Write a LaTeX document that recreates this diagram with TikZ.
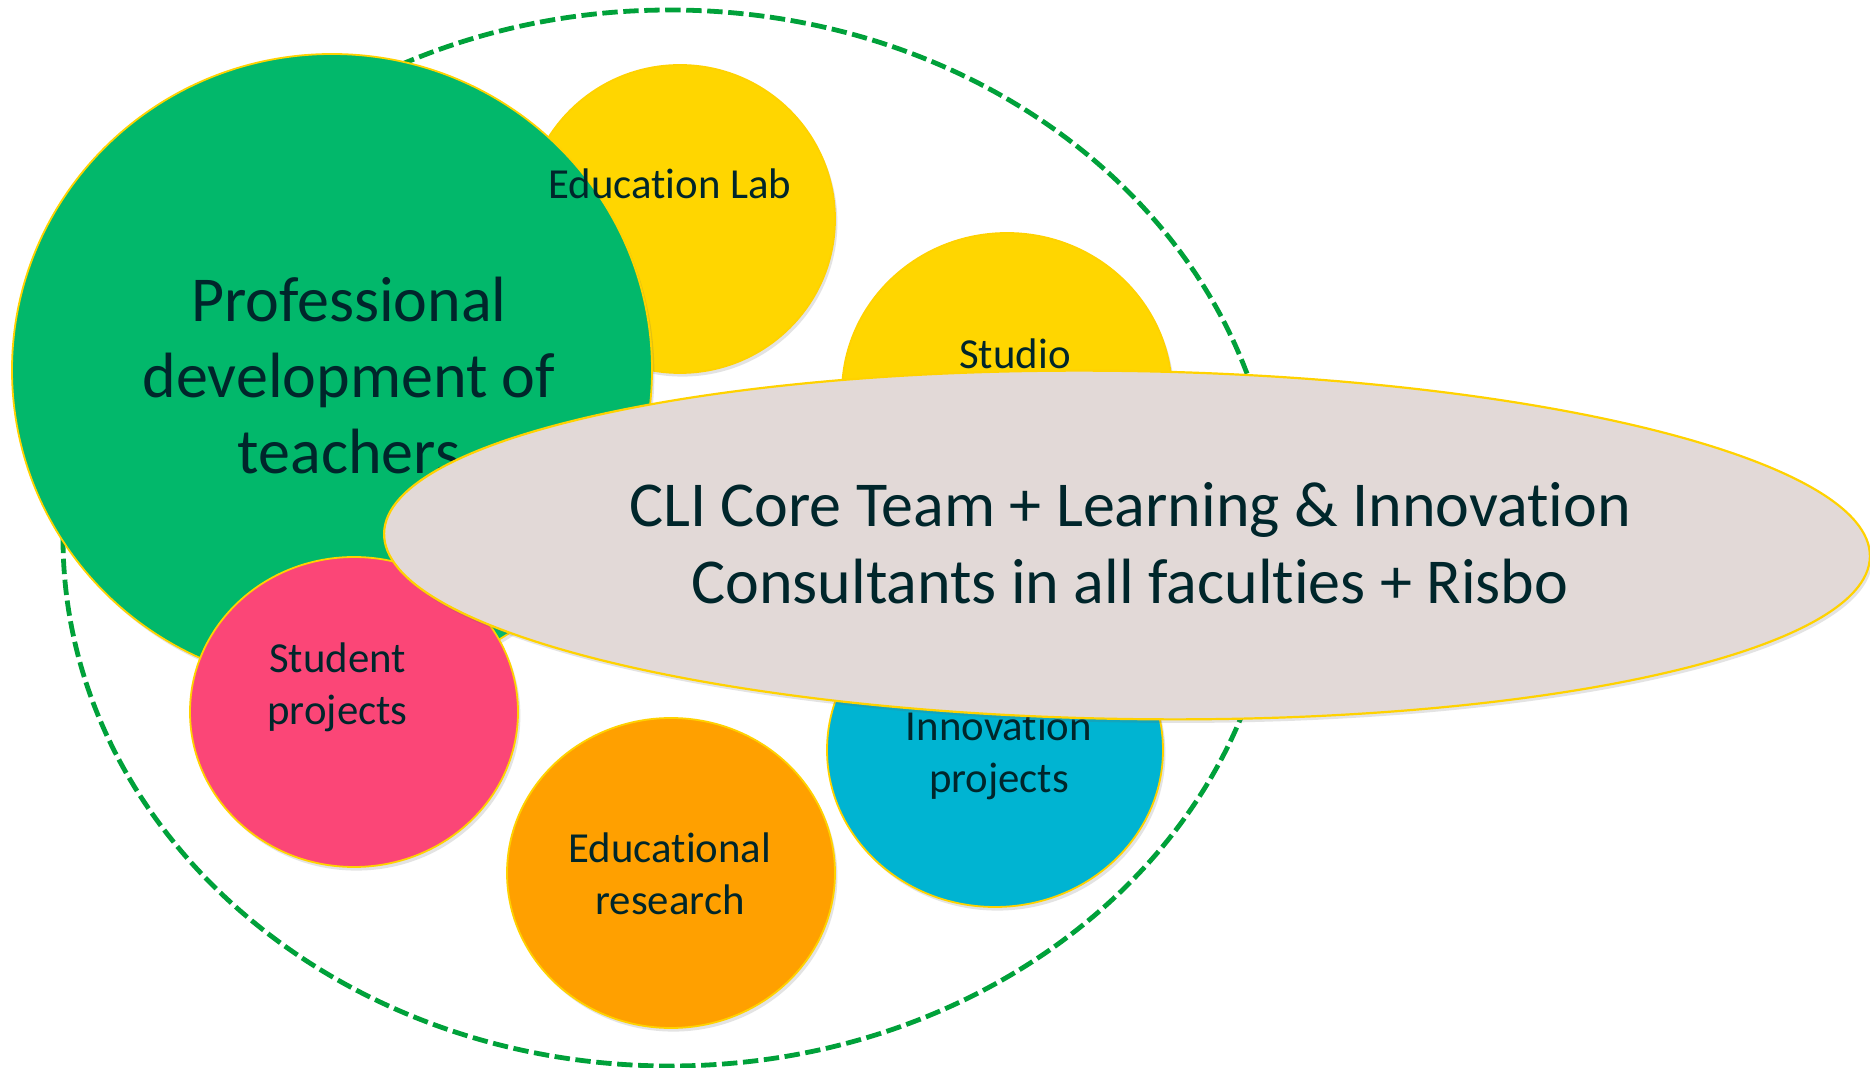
\documentclass[tikz,border=0pt]{standalone}
\usepackage{fontspec}
\setmainfont{Carlito}[Ligatures={NoCommon}]
\usetikzlibrary{shapes.geometric,shadows}
\definecolor{cgreen}{HTML}{02B86B}
\definecolor{cyellow}{HTML}{FFD600}
\definecolor{cpink}{HTML}{FB4677}
\definecolor{corange}{HTML}{FFA000}
\definecolor{cblue}{HTML}{00B4D2}
\definecolor{cgrey}{HTML}{E2D9D7}
\definecolor{cedge}{HTML}{FFD200}
\definecolor{cdash}{HTML}{00A13A}
\definecolor{ctext}{HTML}{00262B}
\newcommand{\mlines}[1]{\begin{tabular}[t]{@{}c@{}}#1\end{tabular}}
\begin{document}
\begin{tikzpicture}[x=0.5pt,y=-0.5pt,
  blob/.style={ellipse, inner sep=0pt, outer sep=0pt, draw=cedge, line width=0.9pt,
    drop shadow={opacity=0.18, shadow xshift=1.2pt, shadow yshift=-1.8pt, fill=black!60}},
  outerring/.style={ellipse, inner sep=0pt, draw=cdash, line width=2.4pt,
    dash pattern=on 7.7pt off 2.8pt},
  smalltext/.style={font=\fontsize{21.4}{26}\selectfont, text=ctext, inner sep=0pt, anchor=base},
  bigtext/.style={font=\fontsize{32}{38}\selectfont, text=ctext, inner sep=0pt, anchor=base},
  coretext/.style={font=\fontsize{32}{38.5}\selectfont, text=ctext, inner sep=0pt, anchor=base}]
\useasboundingbox (0,0) rectangle (1870,1068);
\fill[white] (0,0) rectangle (1870,1068);

% outer dashed ring
\node[outerring, minimum width=607pt, minimum height=528pt] (ring) at (670,538) {};

% Education Lab (behind the big green circle)
\node[blob, fill=cyellow, minimum width=155pt, minimum height=154pt] (lab) at (680,219) {};
% Professional development circle
\node[blob, fill=cgreen, minimum width=320pt, minimum height=316pt] (prof) at (332,370) {};
\node[smalltext] (labtext) at (670,199) {Education Lab};
\node[bigtext] (proftext) at (349,322) {\mlines{Professional\\development of\\teachers}};

% Studio
\node[blob, fill=cyellow, minimum width=165pt, minimum height=160pt] (studio) at (1007,393) {};
\node[smalltext] (studiotext) at (1015,369) {Studio};

% Educational research
\node[blob, fill=corange, minimum width=164pt, minimum height=155pt] (research) at (671,873) {};
\node[smalltext] (researchtext) at (670,863) {\mlines{Educational\\research}};

% Innovation projects
\node[blob, fill=cblue, minimum width=168pt, minimum height=157pt] (innov) at (995,750) {};
\node[smalltext] (innovtext) at (999,741) {\mlines{Innovation\\projects}};

% Student projects
\node[blob, fill=cpink, minimum width=164pt, minimum height=155pt] (student) at (354,712) {};
\node[smalltext] (studenttext) at (337.5,673) {\mlines{Student\hspace{0.226em}\\projects}};

% Core team ellipse
\node[blob, fill=cgrey, line width=1.1pt, rotate=-0.9, minimum width=743pt, minimum height=174pt] (core) at (1127,545) {};
\node[coretext] (coretxt) at (1130,527) {\mlines{CLI Core Team + Learning \& Innovation\\Consultants in all faculties + Risbo}};
\end{tikzpicture}
\end{document}
